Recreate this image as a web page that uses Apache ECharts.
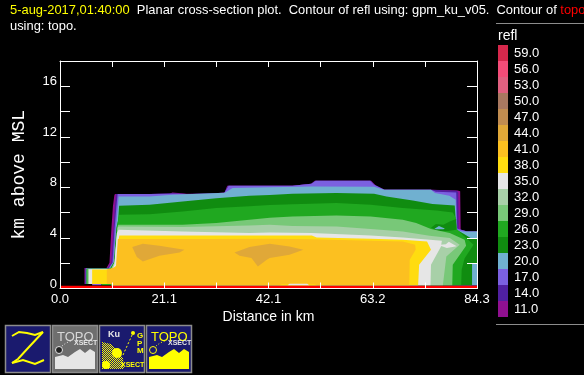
<!DOCTYPE html>
<html>
<head>
<meta charset="utf-8">
<title>Planar cross-section</title>
<style>
  html, body { margin: 0; padding: 0; background: #000; }
  #chart { width: 584px; height: 375px; }
</style>
<script src="https://cdn.jsdelivr.net/npm/echarts@6/dist/echarts.min.js"></script>
</head>
<body>
<div id="chart"></div>
<script>
// colour scale, top to bottom as in the key
const reflLabels = ['59.0', '56.0', '53.0', '50.0', '47.0', '44.0', '41.0', '38.0', '35.0', '32.0', '29.0', '26.0', '23.0', '20.0', '17.0', '14.0', '11.0']
const reflColors = ['#D6284C', '#F44C78', '#E06080', '#A87860', '#C08C50', '#E0A838', '#FCC020', '#FFDC10', '#E6E6E6', '#A8D0A8', '#78C878', '#20A820', '#108C10', '#70B0D0', '#7B60E0', '#5020A0', '#901090']

const xTickValues = [0, 10.54, 21.08, 31.61, 42.15, 52.69, 63.23, 73.76, 84.3]
const xLabelValues = [0, 21.08, 42.15, 63.23, 84.3]
const xLabelTexts = ['0.0', '21.1', '42.1', '63.2', '84.3']
const yTickValues = [0, 2, 4, 6, 8, 10, 12, 14, 16, 18]
const yLabelValues = [0, 4, 8, 12, 16]

// contour outlines, [km along track, km above MSL]
const refl11 = [[4.95, 0.36], [4.95, 1.62], [9.4, 1.62], [10, 2.04], [10.4, 4.78], [10.7, 6.5], [11, 7.41], [11.2, 7.47], [18.1, 7.47], [22.1, 7.5], [22.75, 7.6], [25.6, 7.5], [29.6, 7.47], [33.3, 7.6], [33.8, 8.13], [47, 8.13], [50.8, 8.28], [51.5, 8.52], [62.9, 8.52], [63.9, 8.13], [65.6, 7.81], [75, 7.81], [80.4, 7.76], [80.9, 7.7], [81, 4.65], [82.5, 4.51], [84.3, 4.51], [84.3, 0.25]]
const refl14 = [[5.1, 0.36], [5.1, 1.6], [9.6, 1.6], [10.35, 2.04], [10.85, 4.78], [11.1, 6.5], [11.35, 7.47], [18.1, 7.47], [22.75, 7.53], [25.6, 7.47], [33.2, 7.57], [33.95, 8.13], [47, 8.13], [50.8, 8.28], [51.6, 8.52], [62.8, 8.52], [63.6, 8.2], [65.6, 7.81], [75, 7.81], [80.2, 7.74], [80.5, 7.6], [80.6, 4.7], [82.3, 4.51], [84.3, 4.51], [84.3, 0.25]]
const refl17 = [[5.2, 0.36], [5.2, 1.59], [9.8, 1.59], [10.6, 2.04], [11.05, 4.78], [11.4, 6.5], [11.65, 7.47], [18.1, 7.47], [22.75, 7.5], [25.6, 7.47], [33.1, 7.5], [34.1, 8.13], [47, 8.13], [50.8, 8.28], [51.7, 8.52], [62.7, 8.52], [63.5, 8.2], [65.6, 7.81], [75, 7.81], [76, 7.66], [80.1, 7.6], [80.3, 4.75], [82.2, 4.51], [84.3, 4.51], [84.3, 0.25]]
const refl20 = [[5.3, 0.36], [5.3, 1.58], [10, 1.58], [10.8, 2.1], [11.3, 4.8], [11.7, 6.5], [11.85, 7.28], [18.1, 7.28], [22.75, 7.41], [33.3, 7.57], [34.9, 7.95], [42.4, 8.02], [50.9, 8.07], [63.5, 8.05], [65.5, 7.81], [75, 7.81], [75.8, 7.55], [78.7, 7.33], [80, 7.02], [80.15, 4.65], [81.3, 4.51], [84.3, 4.51], [84.3, 0.25]]
const refl23 = [[5.35, 0.36], [5.35, 1.57], [10.1, 1.57], [10.9, 2.1], [11.4, 4.8], [11.75, 5.4], [11.95, 6.55], [18.1, 6.62], [24.8, 6.89], [31.6, 7.15], [38.3, 7.34], [42.4, 7.4], [47, 7.49], [55.9, 7.55], [63.5, 7.5], [66, 7.28], [71.3, 6.96], [75.3, 6.68], [79.8, 6.57], [80, 5.44], [80.2, 4.65], [81.6, 4.33], [83, 4], [84.3, 4], [84.3, 2.02], [83.3, 2.02], [83.3, 0.25]]
const refl26 = [[5.45, 0.36], [5.45, 1.56], [10.2, 1.56], [11, 2.1], [11.5, 4.8], [11.95, 5.83], [18.1, 5.87], [24.8, 6.1], [31.6, 6.36], [38.3, 6.5], [42.4, 6.6], [47, 6.66], [55.9, 6.76], [62.8, 6.62], [69.3, 6.36], [76.1, 6.17], [79.4, 6.02], [80, 5.6], [80.2, 4.7], [81, 4.4], [83.6, 3.46], [81.8, 2.4], [81.2, 1.5], [81.1, 0.25]]
const refl29 = [[5.55, 0.36], [5.55, 1.55], [10.3, 1.55], [11.05, 2.1], [11.6, 4.8], [11.75, 5.04], [24.8, 5.04], [31.6, 5.18], [38.3, 5.44], [42.4, 5.6], [47, 5.7], [55.9, 5.78], [62.8, 5.7], [69.3, 5.44], [72, 5.18], [75, 4.7], [78.8, 4.39], [81.8, 3.86], [82.1, 3.38], [79.4, 1.88], [79.3, 0.25]]
const refl32 = [[5.7, 0.36], [5.7, 1.54], [10.4, 1.54], [11.05, 2.1], [11.65, 4.8], [11.85, 4.91], [24.8, 4.86], [38.3, 4.99], [42.4, 5.04], [47, 4.95], [55.9, 4.91], [62.8, 4.7], [69.3, 4.51], [74.7, 4.17], [78.8, 3.99], [80.8, 3.46], [78.1, 2.54], [77.4, 0.25]]
const refl35 = [[5.85, 0.36], [5.85, 1.53], [10.6, 1.53], [11, 1.88], [11.2, 3], [11.5, 4.4], [11.85, 4.65], [24.8, 4.51], [38.3, 4.39], [42.4, 4.43], [50.8, 4.39], [62.8, 4.2], [69.3, 4.04], [77.2, 3.78], [77, 3.3], [75, 1.88], [74.9, 0.25]]
const refl38 = [[6.5, 0.36], [6.5, 1.5], [10.5, 1.5], [11.6, 1.9], [11.85, 3.9], [12, 4.2], [50.9, 4.2], [51.9, 4.04], [62.8, 3.94], [69.3, 3.86], [74.2, 3.72], [75, 3.07], [72.6, 1.88], [72.4, 0.25]]
const refl41 = [[9.46, 0.36], [9.46, 1.5], [11.3, 1.7], [11.7, 3.91], [30, 3.91], [42.4, 3.94], [50.9, 3.9], [69.3, 3.72], [71.8, 3.46], [71.9, 3.07], [70.7, 2.28], [70.6, 0.25]]
const refl44west = [[14.6, 3.28], [16.74, 3.54], [20.1, 3.38], [25.17, 3.07], [24.16, 2.85], [20.1, 2.59], [16.74, 2.14], [15.53, 2.49]]
const refl44east = [[35.28, 2.85], [38.3, 3.28], [42.4, 3.54], [46.4, 3.33], [49.2, 3.07], [46.4, 2.67], [42.4, 2.41], [41.8, 2.28], [40, 1.75], [38.7, 2.41], [36.3, 2.59]]
const refl23pocket = [[75, 4.8], [76, 5.1], [77.5, 5.05], [78.8, 5.3], [80.1, 5.5], [80.1, 4.65], [78.5, 4.55], [76.5, 4.55]]
const refl20pocket = [[75.7, 4.72], [76.6, 4.95], [77.8, 4.75], [77.5, 4.68], [76, 4.68]]
const refl35blob = [[76.4, 3.45], [78, 3.5], [78.6, 3.7], [80.2, 3.35], [78.2, 3.2], [77.5, 3.3]]
// slivers left along the ground
const refl17floor = [[6.5, 0.25], [6.5, 0.36], [8.4, 0.36], [8.4, 0.25]]
const refl26floor = [[8.4, 0.25], [8.4, 0.36], [10.4, 0.36], [10.4, 0.25]]
const refl38floor = [[44.4, 0.25], [44.8, 0.33], [51.5, 0.33], [51.9, 0.25]]
const refl35floor = [[46, 0.25], [46.4, 0.38], [50, 0.38], [50.4, 0.25]]
const topo = [[0, 0], [0, 0.22], [84.3, 0.22], [84.3, 0]]

const baseStep = [[10.4, 0.25], [10.4, 0.36]]

// draws the whole outline once, from the first point of the series
function contourSeries(name, points, color, closeOnBase) {
  const outline = closeOnBase ? points.concat(baseStep) : points
  return {
    name: name,
    type: 'custom',
    xAxisIndex: 0,
    yAxisIndex: 0,
    silent: true,
    clip: true,
    data: points,
    encode: { x: 0, y: 1 },
    renderItem: (params, api) => {
      if (params.dataIndex !== 0) return null
      return {
        type: 'polygon',
        shape: { points: outline.map((p) => api.coord(p)) },
        style: { fill: color },
      }
    },
  }
}

const color = (label) => reflColors[reflLabels.indexOf(label)]

const contours = [
  contourSeries('11', refl11, color('11.0'), true),
  contourSeries('14', refl14, color('14.0'), true),
  contourSeries('17', refl17, color('17.0'), true),
  contourSeries('20', refl20, color('20.0'), true),
  contourSeries('23', refl23, color('23.0'), true),
  contourSeries('26', refl26, color('26.0'), true),
  contourSeries('23 pocket', refl23pocket, color('23.0')),
  contourSeries('20 pocket', refl20pocket, color('20.0')),
  contourSeries('29', refl29, color('29.0'), true),
  contourSeries('32', refl32, color('32.0'), true),
  contourSeries('35', refl35, color('35.0'), true),
  contourSeries('35 blob', refl35blob, color('35.0')),
  contourSeries('38', refl38, color('38.0'), true),
  contourSeries('41', refl41, color('41.0'), true),
  contourSeries('44 west', refl44west, color('44.0')),
  contourSeries('44 east', refl44east, color('44.0')),
  contourSeries('17 floor', refl17floor, color('17.0')),
  contourSeries('26 floor', refl26floor, color('26.0')),
  contourSeries('38 floor', refl38floor, color('38.0')),
  contourSeries('35 floor', refl35floor, color('35.0')),
  contourSeries('topo', topo, '#FF0000'),
]

const fontFamily = '"Liberation Sans", sans-serif'
const NAVY = '#1A1A6E'
const YELLOW = '#FFFF00'

// checker fill for the GPM button's hill
const checker = document.createElement('canvas')
checker.width = 2
checker.height = 2
const checkerCtx = checker.getContext('2d')
checkerCtx.fillStyle = NAVY
checkerCtx.fillRect(0, 0, 2, 2)
checkerCtx.fillStyle = YELLOW
checkerCtx.fillRect(0, 0, 1, 1)
checkerCtx.fillRect(1, 1, 1, 1)

// the four toolbar buttons under the plot
function button(x, fill, children) {
  return {
    type: 'group',
    x: x,
    y: 325,
    silent: true,
    children: [
      { type: 'rect', shape: { x: 0.5, y: 0.5, width: 45, height: 47 }, style: { fill: fill, stroke: '#8C8C8C', lineWidth: 1.5 } },
    ].concat(children),
  }
}

function label(text, x, y, size, fill, weight) {
  return {
    type: 'text',
    x: x,
    y: y,
    style: { text: text, fill: fill, fontFamily: fontFamily, fontSize: size, fontWeight: weight || 'normal' },
  }
}

function ridge(fill) {
  return {
    type: 'polygon',
    shape: { points: [[3, 44], [3, 32], [11, 30], [16, 32], [23, 27], [28, 24], [33, 28], [38, 24], [43, 27], [43, 44]] },
    style: { fill: fill },
  }
}

// satellite dish and its dotted beam
function dish(stroke, fill) {
  return [
    { type: 'circle', shape: { cx: 7, cy: 25, r: 3.5 }, style: { fill: fill, stroke: stroke, lineWidth: 1 } },
    { type: 'polyline', shape: { points: [[10, 21], [14, 18], [19, 16]] }, style: { stroke: stroke, lineWidth: 1, lineDash: [1, 2], fill: null } },
  ]
}

const zButton = button(5, NAVY, [
  { type: 'polyline', shape: { points: [[7, 11], [14, 7], [22, 8], [30, 10], [38, 7]] }, style: { stroke: YELLOW, lineWidth: 2, fill: null } },
  { type: 'polyline', shape: { points: [[38, 7], [24, 22], [13, 34], [7, 38]] }, style: { stroke: YELLOW, lineWidth: 2, fill: null } },
  { type: 'polyline', shape: { points: [[7, 38], [18, 35], [30, 39], [39, 35]] }, style: { stroke: YELLOW, lineWidth: 2, fill: null } },
])
const topoGreyButton = button(52, '#6E6E6E', [
  label('TOPO', 5, 6, 13, '#D8D8D8'),
  ridge('#E6E6E6'),
  ...dish('#E6E6E6', '#222'),
  label('XSECT', 22, 15, 7, '#E6E6E6', 'bold'),
])
const gpmButton = button(99, NAVY, [
  { type: 'polygon', shape: { points: [[3, 44], [3, 17], [12, 19], [20, 27], [24, 33], [25, 44]] }, style: { fill: { image: checker, repeat: 'repeat' } } },
  { type: 'circle', shape: { cx: 18, cy: 28, r: 5 }, style: { fill: YELLOW } },
  { type: 'circle', shape: { cx: 7, cy: 40, r: 4 }, style: { fill: YELLOW } },
  { type: 'polyline', shape: { points: [[24, 30], [34, 8]] }, style: { stroke: YELLOW, lineWidth: 1, lineDash: [2, 2], fill: null } },
  { type: 'circle', shape: { cx: 34, cy: 8, r: 2 }, style: { fill: YELLOW } },
  label('Ku', 9, 5, 9, '#E6E6E6', 'bold'),
  label('G', 38, 7, 8, YELLOW, 'bold'),
  label('P', 38, 15, 8, YELLOW, 'bold'),
  label('M', 38, 22, 8, YELLOW, 'bold'),
  label('XSECT', 22, 37, 7, YELLOW, 'bold'),
])
const topoYellowButton = button(146, NAVY, [
  label('TOPO', 5, 6, 13, YELLOW),
  ridge(YELLOW),
  ...dish(YELLOW, NAVY),
  label('XSECT', 22, 15, 7, '#E6E6E6', 'bold'),
])

const chart = echarts.init(document.getElementById('chart'), null, { renderer: 'canvas' })

chart.setOption({
  animation: false,
  backgroundColor: '#000',
  title: [
    {
      left: 10,
      top: 2,
      padding: 0,
      text: '{y|5-aug-2017,01:40:00}  Planar cross-section plot.  Contour of refl using: gpm_ku_v05.  Contour of {r|topo}\nusing: topo.',
      textStyle: {
        color: '#fff',
        fontSize: 12.9,
        fontWeight: 'normal',
        fontFamily: fontFamily,
        lineHeight: 16,
        rich: {
          y: { color: YELLOW, fontSize: 12.9, fontFamily: fontFamily, lineHeight: 16 },
          r: { color: '#FF0000', fontSize: 12.9, fontFamily: fontFamily, lineHeight: 16 },
        },
      },
    },
    {
      left: 498,
      top: 29,
      padding: 0,
      text: 'refl',
      textStyle: { color: '#fff', fontSize: 14, fontWeight: 'normal', fontFamily: fontFamily },
    },
  ],
  grid: [
    { left: 60, top: 61, width: 417, height: 227.5, outerBoundsMode: 'none' },
    { left: 498, top: 45, width: 10, height: 272, outerBoundsMode: 'none' },
  ],
  xAxis: [
    {
      type: 'value',
      gridIndex: 0,
      min: 0,
      max: 84.3,
      z: 10,
      name: 'Distance in km',
      nameLocation: 'middle',
      nameGap: 17,
      nameTextStyle: { color: '#fff', fontSize: 14, fontFamily: fontFamily },
      splitLine: { show: false },
      axisLine: { onZero: false, lineStyle: { color: '#fff', width: 1 } },
      axisTick: { inside: true, length: 6, customValues: xTickValues, lineStyle: { color: '#fff' } },
      axisLabel: {
        color: '#fff',
        fontSize: 13,
        fontFamily: fontFamily,
        margin: 4,
        customValues: xLabelValues,
        formatter: (v) => xLabelTexts[xLabelValues.indexOf(v)],
      },
    },
    {
      type: 'value',
      gridIndex: 0,
      position: 'top',
      min: 0,
      max: 84.3,
      z: 10,
      splitLine: { show: false },
      axisLine: { onZero: false, lineStyle: { color: '#fff', width: 1 } },
      axisTick: { inside: true, length: 6, customValues: xTickValues, lineStyle: { color: '#fff' } },
      axisLabel: { show: false },
    },
    { type: 'value', gridIndex: 1, min: 0, max: 1, show: false },
  ],
  yAxis: [
    {
      type: 'value',
      gridIndex: 0,
      min: 0,
      max: 18,
      z: 10,
      name: 'km above MSL',
      nameLocation: 'middle',
      nameGap: 32,
      nameTextStyle: { color: '#fff', fontSize: 18, fontFamily: '"Liberation Mono", monospace' },
      splitLine: { show: false },
      axisLine: { onZero: false, lineStyle: { color: '#fff', width: 1 } },
      axisTick: { inside: true, length: 10, customValues: yTickValues, lineStyle: { color: '#fff' } },
      axisLabel: {
        color: '#fff',
        fontSize: 13,
        fontFamily: fontFamily,
        margin: 3,
        verticalAlign: 'bottom',
        padding: [0, 0, -2, 0],
        customValues: yLabelValues,
      },
    },
    {
      type: 'value',
      gridIndex: 0,
      position: 'right',
      min: 0,
      max: 18,
      z: 10,
      splitLine: { show: false },
      axisLine: { onZero: false, lineStyle: { color: '#fff', width: 1 } },
      axisTick: { inside: true, length: 10, customValues: yTickValues, lineStyle: { color: '#fff' } },
      axisLabel: { show: false },
    },
    {
      type: 'category',
      gridIndex: 1,
      position: 'right',
      inverse: true,
      data: reflLabels,
      axisLine: { show: false },
      axisTick: { show: false },
      axisLabel: { color: '#fff', fontSize: 13, fontFamily: fontFamily, margin: 6, interval: 0 },
    },
  ],
  series: contours.concat([
    {
      name: 'refl key',
      type: 'bar',
      xAxisIndex: 2,
      yAxisIndex: 2,
      silent: true,
      barCategoryGap: 0,
      data: reflColors.map((c) => ({ value: 1, itemStyle: { color: c } })),
    },
  ]),
  graphic: [
    { type: 'line', silent: true, shape: { x1: 496, y1: 23.5, x2: 584, y2: 23.5 }, style: { stroke: '#8C8C8C', lineWidth: 1 } },
    { type: 'line', silent: true, shape: { x1: 496, y1: 324.5, x2: 584, y2: 324.5 }, style: { stroke: '#8C8C8C', lineWidth: 1 } },
    zButton,
    topoGreyButton,
    gpmButton,
    topoYellowButton,
  ],
})
</script>
</body>
</html>
